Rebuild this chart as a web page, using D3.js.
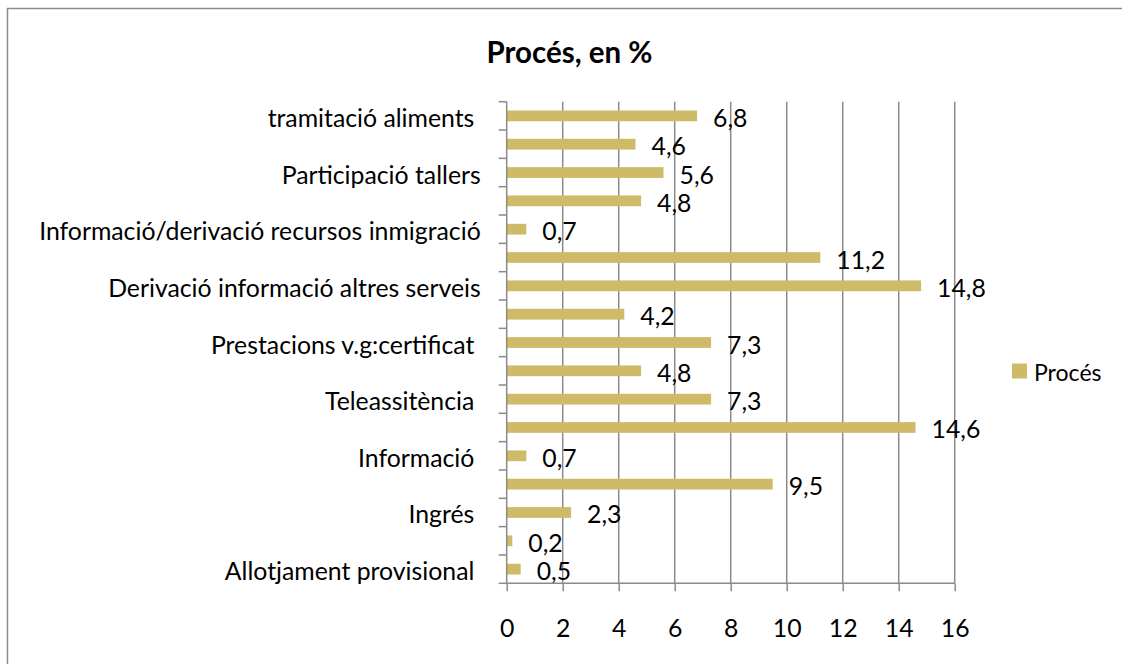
<!DOCTYPE html>
<html>
<head>
<meta charset="utf-8">
<script src="https://cdn.jsdelivr.net/npm/d3@7"></script>
<style>
  html, body { margin: 0; padding: 0; background: #fff; }
  svg { display: block; }
  text { font-family: Lato, "Open Sans", sans-serif; fill: #000; }
</style>
</head>
<body>
<svg id="chart" width="1122" height="664"></svg>
<script>
// Categories, bottom to top as in the source; "" = label not shown on the axis
const categories = [
  "Allotjament provisional ",
  "",
  "Ingrés ",
  "",
  "Informació ",
  "",
  "Teleassitència ",
  "",
  "Prestacions v.g:certificat ",
  "",
  "Derivació informació altres serveis",
  "",
  "Informació/derivació recursos inmigració",
  "",
  "Participació tallers",
  "",
  "tramitació aliments "
];
const values = [0.5, 0.2, 2.3, 9.5, 0.7, 14.6, 7.3, 4.8, 7.3, 4.2, 14.8, 11.2, 0.7, 4.8, 5.6, 4.6, 6.8];
const xTicks = [0, 2, 4, 6, 8, 10, 12, 14, 16];
const seriesName = "Procés";
const title = "Procés, en %";

const svg = d3.select("#chart");
const W = 1122, H = 664;
const plot = { left: 506.7, right: 954.7, top: 101.7, bottom: 583.3 };
const barColor = "#cfba68";
const gridColor = "#8a8a8a";
const fontSize = 24.8;

// Outer chart border (extends past the frame on right/bottom)
svg.append("rect")
  .attr("x", 7.5).attr("y", 8.5)
  .attr("width", W + 20).attr("height", H + 20)
  .attr("fill", "#fff")
  .attr("stroke", "#8c8c8c")
  .attr("stroke-width", 1.5);

const x = d3.scaleLinear().domain([0, 16]).range([plot.left, plot.right]);
const idx = d3.range(values.length);
const y = d3.scaleBand().domain(idx.slice().reverse()).range([plot.top, plot.bottom]).paddingInner(0.62).paddingOuter(0.31);
const yb = d3.scaleBand().domain(idx.slice().reverse()).range([plot.top, plot.bottom]);

// Vertical gridlines
svg.append("g").selectAll("line")
  .data(xTicks.filter(t => t > 0))
  .join("line")
  .attr("x1", d => x(d)).attr("x2", d => x(d))
  .attr("y1", plot.top).attr("y2", plot.bottom)
  .attr("stroke", gridColor).attr("stroke-width", 1.5);

// Bars
svg.append("g").selectAll("rect")
  .data(idx)
  .join("rect")
  .attr("x", x(0))
  .attr("y", i => y(i))
  .attr("width", i => x(values[i]) - x(0))
  .attr("height", y.bandwidth())
  .attr("fill", barColor);

// Value labels
const fmt = v => d3.format(".1f")(v).replace(".", ",");
svg.append("g").selectAll("text")
  .data(idx)
  .join("text")
  .attr("x", i => x(values[i]) + 16)
  .attr("y", i => y(i) + y.bandwidth() / 2 + 1.5)
  .attr("dominant-baseline", "central")
  .attr("font-size", fontSize)
  .text(i => fmt(values[i]));

// X axis
const xAxis = d3.axisBottom(x).tickValues(xTicks).tickSize(8).tickFormat(d3.format("d"));
const gx = svg.append("g").attr("transform", `translate(0,${plot.bottom})`).call(xAxis);
gx.select(".domain").attr("stroke", gridColor).attr("stroke-width", 1.5).attr("d", `M${plot.left},0H${plot.right}`);
gx.selectAll(".tick line").attr("stroke", gridColor).attr("stroke-width", 1.5);
gx.selectAll(".tick text")
  .attr("y", 44).attr("dy", null)
  .attr("dominant-baseline", "central")
  .attr("font-size", fontSize).attr("font-family", "Lato, sans-serif").attr("fill", "#000");

// Y axis: ticks at band boundaries, labels right-aligned
const gy = svg.append("g");
const boundaries = idx.map(i => yb(i)).concat([plot.bottom]);
gy.append("line")
  .attr("x1", plot.left).attr("x2", plot.left)
  .attr("y1", plot.top).attr("y2", plot.bottom)
  .attr("stroke", gridColor).attr("stroke-width", 1.5);
gy.selectAll("line.t")
  .data(boundaries)
  .join("line").attr("class", "t")
  .attr("x1", plot.left - 8).attr("x2", plot.left)
  .attr("y1", d => d).attr("y2", d => d)
  .attr("stroke", gridColor).attr("stroke-width", 1.5);
gy.selectAll("text")
  .data(idx.filter(i => categories[i] !== ""))
  .join("text")
  .attr("x", plot.left - 26)
  .attr("y", i => yb(i) + yb.bandwidth() / 2 + 1.5)
  .attr("text-anchor", "end")
  .attr("dominant-baseline", "central")
  .attr("font-size", fontSize)
  .style("white-space", "pre")
  .text(i => categories[i]);

// Title
svg.append("text")
  .attr("x", 569.5).attr("y", 51)
  .attr("text-anchor", "middle")
  .attr("dominant-baseline", "central")
  .attr("font-size", 29.5)
  .attr("font-weight", "bold")
  .text(title);

// Legend
const lg = svg.append("g").attr("transform", "translate(1012,363.5)");
lg.append("rect").attr("width", 15).attr("height", 15).attr("fill", barColor);
lg.append("text").attr("x", 22).attr("y", 8.5)
  .attr("dominant-baseline", "central")
  .attr("font-size", fontSize * 0.93)
  .text(seriesName);
</script>
</body>
</html>
